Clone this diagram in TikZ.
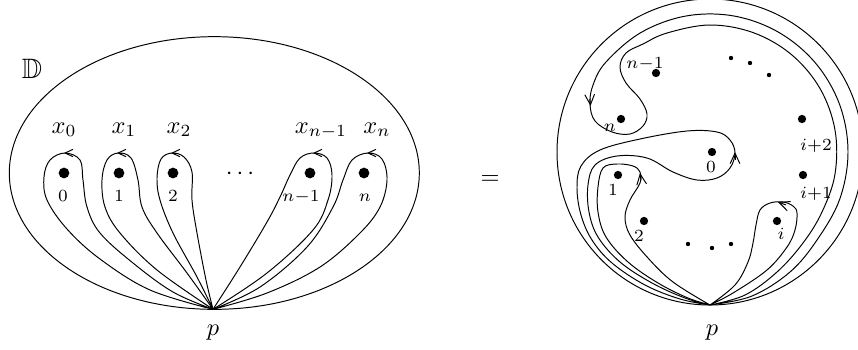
\documentclass[tikz,border=0pt]{standalone}
\usepackage{amssymb}
\usetikzlibrary{arrows.meta}
\begin{document}
\begin{tikzpicture}[x=0.41pt,y=-0.41pt,
  bigdot/.style={circle,fill,inner sep=0pt,minimum size=4.4pt},
  rdot/.style={circle,fill,inner sep=0pt,minimum size=3.4pt},
  sdot/.style={circle,fill,inner sep=0pt,minimum size=1.8pt},
  arrL/.style={-{Straight Barb[length=3.2pt,width=3pt]}},
  arrR/.style={-{Straight Barb[length=4.3pt,width=4pt]}},
  lbl/.style={anchor=base,inner sep=0pt},
  sm/.style={smooth,tension=0.6},
]
\useasboundingbox (0,0) rectangle (858,349);

% ---------------- left figure ----------------
\draw (214.3,173) ellipse [x radius=84.05pt, y radius=55.9pt];
\coordinate (pL) at (213,309.3);
\node[lbl,scale=1.15] (D) at (32,78) {$\mathbb{D}$};

\node[bigdot] (a0) at (64,173) {};
\node[bigdot] (a1) at (119,173) {};
\node[bigdot] (a2) at (173,173) {};
\node[bigdot] (an1) at (310,173) {};
\node[bigdot] (an) at (364,173) {};
\node[lbl] (cd) at (240,179) {$\cdots$};

\node[lbl] (x0) at (64,133) {$x_0$};
\node[lbl] (x1) at (124,133) {$x_1$};
\node[lbl] (x2) at (179,133) {$x_2$};
\node[lbl] (xn1) at (321,133) {$x_{n-1}$};
\node[lbl] (xn) at (377,133) {$x_n$};

\node[lbl] (b0) at (63,201) {$\scriptstyle 0$};
\node[lbl] (b1) at (119,201) {$\scriptstyle 1$};
\node[lbl] (b2) at (173,201) {$\scriptstyle 2$};
\node[lbl] (bn1) at (301,201) {$\scriptstyle n-1$};
\node[lbl] (bn) at (365,201) {$\scriptstyle n$};
\node[lbl] (pl) at (213,335) {$p$};

\draw plot[sm] coordinates {(pL) (150,290) (100,259) (67,229) (47,200) (44,177) (50,160) (65,153) (80,160) (83,180) (87,207) (100,233) (133,263) (173,292) (pL)};
\draw plot[sm] coordinates {(pL) (157,270) (120,233) (105,207) (102,180) (107,160) (118,153) (131,158) (138,180) (142,207) (157,233) (187,273) (pL)};
\draw plot[sm] coordinates {(pL) (197,277) (173,233) (160,200) (157,178) (161,159) (172,153) (184,157) (192,172) (192,200) (197,233) (206,280) (pL)};
\draw plot[sm] coordinates {(pL) (240,267) (267,222) (280,197) (290,175) (300,158) (314,153) (327,158) (332,175) (328,200) (313,230) (267,273) (pL)};
\draw plot[sm] coordinates {(pL) (260,287) (307,247) (333,207) (343,180) (352,160) (368,153) (382,159) (387,180) (380,207) (360,233) (320,267) (267,293) (pL)};

\draw[arrL] (69,153) -- (64,153);
\draw[arrL] (122,153) -- (117,153);
\draw[arrL] (176,153) -- (171,153);
\draw[arrL] (318,153) -- (313,153);
\draw[arrL] (372,153) -- (367,153);

\node[lbl] (eq) at (490,184) {$=$};

% ---------------- right figure ----------------
\draw (710,152) circle [radius=62.73pt];
\coordinate (pR) at (710,305);
\node[lbl] (pr) at (712,335) {$p$};

\node[rdot] (c0) at (712,152) {};
\node[rdot] (c1) at (618,175) {};
\node[rdot] (c2) at (644,221) {};
\node[rdot] (ci) at (777,221) {};
\node[rdot] (ci1) at (803,175) {};
\node[rdot] (ci2) at (802,119) {};
\node[rdot] (cn1) at (656,73) {};
\node[rdot] (cn) at (621,119) {};
\node[sdot] (s1) at (688,244) {};
\node[sdot] (s2) at (712,248) {};
\node[sdot] (s3) at (731,244) {};
\node[sdot] (t1) at (731,58) {};
\node[sdot] (t2) at (750,63) {};
\node[sdot] (t3) at (769,75) {};

\node[lbl] (l0) at (711,172) {$\scriptstyle 0$};
\node[lbl] (l1) at (613,195) {$\scriptstyle 1$};
\node[lbl] (l2) at (639,241) {$\scriptstyle 2$};
\node[lbl] (li) at (781,239) {$\scriptstyle i$};
\node[lbl] (li1) at (816,198) {$\scriptstyle i+1$};
\node[lbl] (li2) at (816,150) {$\scriptstyle i+2$};
\node[lbl] (ln1) at (645,68) {$\scriptstyle n-1$};
\node[lbl] (ln) at (610,131) {$\scriptstyle n$};

% loop around 0
\draw plot[sm] coordinates {(pR) (685,298) (652,283) (620,262) (598,237) (589,212) (588,185) (595,165) (617,156) (647,158) (673,172) (697,180) (717,178) (730,168) (735,153) (730,140) (717,132) (687,131) (640,139) (600,150) (581,166) (577,188) (581,215) (592,240) (612,263) (645,285) (680,299) (pR)};
% loop around 1
\draw plot[sm] coordinates {(pR) (673,282) (648,258) (630,235) (625,217) (630,200) (640,183) (640,172) (633,166) (617,164) (603,168) (598,187) (598,212) (606,237) (628,262) (658,283) (688,298) (pR)};
% loop around i
\draw plot[sm] coordinates {(pR) (733,293) (767,270) (787,247) (795,230) (797,213) (793,206) (783,202) (770,203) (760,210) (756,225) (753,243) (748,262) (735,285) (pR)};
% loop around n
\draw plot[sm] coordinates {(pR) (752,296) (790,272) (817,240) (839.7,199.2) (848,152) (839.7,104.8) (815.7,63.3) (779,32.5) (734,16) (686,16) (641,32.5) (606,62) (593,85) (590,104) (595,121) (612,132) (630,134) (643,126) (647,114) (640,99) (626,83) (620,67) (626,53) (643,44) (667,33) (710,25) (753.4,32.7) (791.6,54.7) (820,88.5) (835,130) (835,174) (822,212) (803,243) (777,272) (745,295) (pR)};

\draw[arrR] (735,160) -- (735,152);
\draw[arrR] (641,180) -- (640,173);
\draw[arrR] (590,99) -- (590.5,106);
\draw[arrR] (786,205) -- (778,202);
\end{tikzpicture}
\end{document}
